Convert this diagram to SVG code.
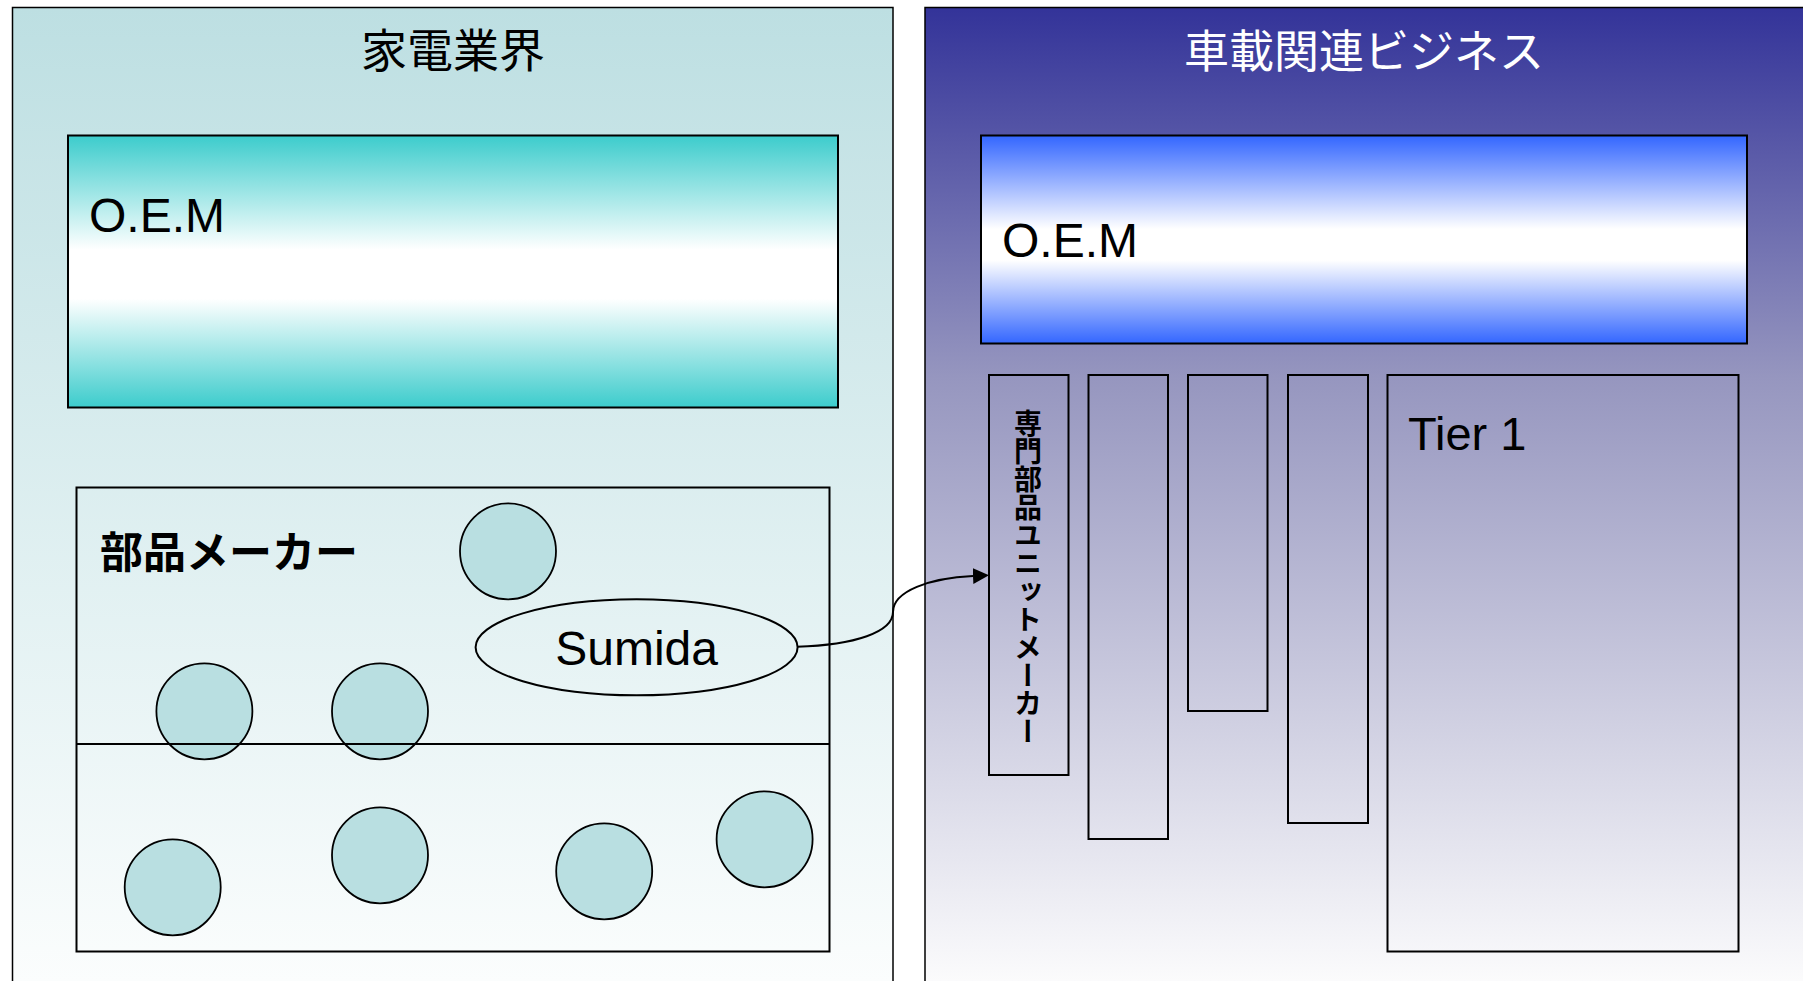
<svg xmlns="http://www.w3.org/2000/svg" width="1803" height="981" viewBox="0 0 1803 981">
<defs>
<linearGradient id="gLeft" gradientUnits="userSpaceOnUse" x1="0" y1="7" x2="0" y2="981">
<stop offset="0" stop-color="#BDDFE2"/>
<stop offset="1" stop-color="#FBFDFD"/>
</linearGradient>
<linearGradient id="gRight" gradientUnits="userSpaceOnUse" x1="0" y1="7" x2="0" y2="981">
<stop offset="0" stop-color="#333399"/>
<stop offset="0.38" stop-color="#9696BF"/>
<stop offset="1" stop-color="#FBFBFC"/>
</linearGradient>
<linearGradient id="gOemL" x1="0" y1="0" x2="0" y2="1">
<stop offset="0" stop-color="#3CCCCC"/>
<stop offset="0.42" stop-color="#FFFFFF"/>
<stop offset="0.6" stop-color="#FFFFFF"/>
<stop offset="1" stop-color="#3CCCCC"/>
</linearGradient>
<linearGradient id="gOemR" x1="0" y1="0" x2="0" y2="1">
<stop offset="0" stop-color="#3366FF"/>
<stop offset="0.45" stop-color="#FFFFFF"/>
<stop offset="0.6" stop-color="#FFFFFF"/>
<stop offset="1" stop-color="#3366FF"/>
</linearGradient>
<marker id="arrow" markerUnits="userSpaceOnUse" markerWidth="16" markerHeight="16" refX="0" refY="8" orient="auto" viewBox="0 0 16 16">
<path d="M0,0 L16,8 L0,16 Z" fill="#000"/>
</marker>
</defs>
<style>
.panel{stroke:#000;stroke-width:1.5}
.box{fill:none;stroke:#000;stroke-width:2}
.dot{fill:#B9DFE1;stroke:#000;stroke-width:1.8}
.lat{font-family:"Liberation Sans",Arial,sans-serif;fill:#000}
.jp{font-family:"Noto Sans CJK JP","Noto Sans CJK SC",sans-serif}
.conn{fill:none;stroke:#000;stroke-width:2}
</style>
<rect width="1803" height="981" fill="#FFFFFF"/>

<g id="panel-kaden">
<rect class="panel" x="12.5" y="7.5" width="880.5" height="990" fill="url(#gLeft)"/>
<text class="jp" x="453" y="67" font-size="46" text-anchor="middle" fill="#000">家電業界</text>
</g>

<g id="panel-shasai">
<rect class="panel" x="925" y="7.5" width="890" height="990" fill="url(#gRight)"/>
<text class="jp" x="1364" y="68" font-size="45" text-anchor="middle" fill="#FFFFFF">車載関連ビジネス</text>
</g>

<g id="oem-left">
<rect x="68" y="135.5" width="770" height="272" fill="url(#gOemL)" stroke="#000" stroke-width="2"/>
<text class="lat" x="89" y="232" font-size="48">O.E.M</text>
</g>

<g id="oem-right">
<rect x="981" y="135.5" width="766" height="208" fill="url(#gOemR)" stroke="#000" stroke-width="2"/>
<text class="lat" x="1002" y="257" font-size="48">O.E.M</text>
</g>

<g id="circles">
<circle class="dot" cx="508" cy="551.3" r="48"/>
<circle class="dot" cx="204.4" cy="711.3" r="48"/>
<circle class="dot" cx="380" cy="711.3" r="48"/>
<circle class="dot" cx="172.7" cy="887.3" r="48"/>
<circle class="dot" cx="380" cy="855.3" r="48"/>
<circle class="dot" cx="604.2" cy="871.3" r="48"/>
<circle class="dot" cx="764.6" cy="839.3" r="48"/>
</g>

<g id="parts-makers">
<rect class="box" x="76.5" y="487.5" width="753" height="464"/>
<line x1="76.5" y1="744" x2="829.5" y2="744" stroke="#000" stroke-width="2"/>
<text class="jp" x="100" y="568" font-size="43" font-weight="bold" fill="#000">部品メーカー</text>
</g>

<g id="sumida">
<ellipse cx="636.6" cy="647.3" rx="161" ry="48" fill="none" stroke="#000" stroke-width="2"/>
<text class="lat" x="636.6" y="665" font-size="48" text-anchor="middle">Sumida</text>
</g>

<g id="unit-maker">
<rect class="box" x="989" y="375" width="79.5" height="400"/>
<text class="jp" x="1028" y="409" font-size="28" font-weight="bold" fill="#000" style="writing-mode:vertical-rl">専門部品ユニットメーカー</text>
</g>
<g id="col2"><rect class="box" x="1088.5" y="375" width="79.5" height="464"/></g>
<g id="col3"><rect class="box" x="1188" y="375" width="79.5" height="336"/></g>
<g id="col4"><rect class="box" x="1288" y="375" width="80" height="448"/></g>
<g id="tier1">
<rect class="box" x="1387.5" y="375" width="351" height="576.5"/>
<text class="lat" x="1408" y="450" font-size="47">Tier 1</text>
</g>

<g id="connectors">
<path class="conn" d="M797,646.7 C855,645 893,632 893,612 C893,591 930,578 973,576" marker-end="url(#arrow)"/>
</g>
</svg>
